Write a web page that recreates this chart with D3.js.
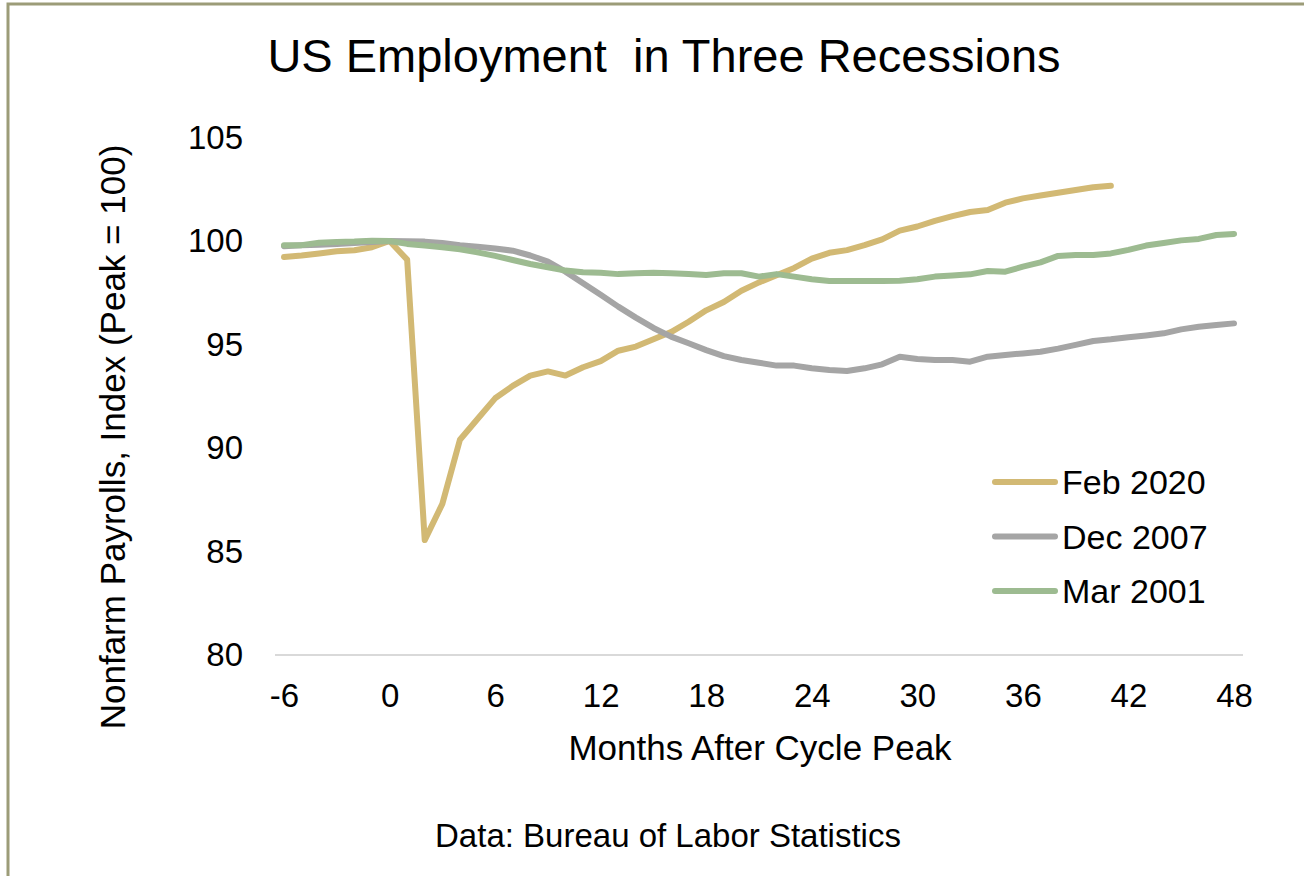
<!DOCTYPE html>
<html>
<head>
<meta charset="utf-8">
<script src="https://cdn.jsdelivr.net/npm/d3@7"></script>
<style>
  html, body { margin: 0; padding: 0; background: #ffffff; }
  svg { display: block; font-family: "Liberation Sans", Arial, sans-serif; }
</style>
</head>
<body>
<svg id="chart" width="1304" height="876"></svg>
<script>
// ---- data ----
const months = d3.range(-6, 49);
const xTicks = [-6, 0, 6, 12, 18, 24, 30, 36, 42, 48];
const yTicks = [80, 85, 90, 95, 100, 105];

const feb2020 = [99.23, 99.3, 99.4, 99.5, 99.55, 99.7, 100.0, 99.1, 85.55, 87.3, 90.4, 91.4,
  92.4, 93.0, 93.5, 93.7, 93.5, 93.9, 94.2, 94.7, 94.9, 95.25, 95.6, 96.1, 96.65, 97.05,
  97.6, 98.0, 98.35, 98.7, 99.15, 99.43, 99.56, 99.8, 100.08, 100.5, 100.7, 100.97, 101.2,
  101.4, 101.5, 101.85, 102.06, 102.2, 102.33, 102.46, 102.6, 102.67];
const dec2007 = [99.75, 99.8, 99.82, 99.86, 99.9, 99.95, 100.0, 99.99, 99.97, 99.9, 99.8, 99.72,
  99.64, 99.53, 99.3, 99.0, 98.52, 97.96, 97.4, 96.83, 96.3, 95.8, 95.38, 95.06, 94.73,
  94.44, 94.25, 94.12, 93.98, 93.98, 93.85, 93.77, 93.72, 93.85, 94.04, 94.41, 94.3, 94.25,
  94.25, 94.17, 94.41, 94.49, 94.57, 94.65, 94.8, 94.98, 95.17, 95.25, 95.35, 95.44, 95.54,
  95.73, 95.86, 95.94, 96.02];
const mar2001 = [99.8, 99.8, 99.92, 99.95, 99.97, 100.01, 100.0, 99.86, 99.78, 99.7, 99.6, 99.45,
  99.28, 99.08, 98.89, 98.73, 98.57, 98.49, 98.47, 98.4, 98.44, 98.47, 98.44, 98.4, 98.36,
  98.44, 98.44, 98.28, 98.4, 98.28, 98.15, 98.07, 98.07, 98.07, 98.07, 98.08, 98.15, 98.28,
  98.33, 98.39, 98.55, 98.52, 98.76, 98.97, 99.28, 99.32, 99.32, 99.4, 99.57, 99.78, 99.9,
  100.03, 100.1, 100.29, 100.34];

const seriesNames = ["Feb 2020", "Dec 2007", "Mar 2001"];
const seriesValues = [feb2020, dec2007, mar2001];
const seriesColors = ["#d2b974", "#a5a5a5", "#9dbb91"];

// ---- layout ----
const svg = d3.select("#chart");
const W = 1304, H = 876;

// frame (olive border, top & left visible)
svg.append("rect").attr("x", 8).attr("y", 4).attr("width", W + 10).attr("height", H + 10)
  .attr("fill", "#ffffff").attr("stroke", "#9c9c78").attr("stroke-width", 3);

const x = d3.scaleLinear().domain([-6, 48]).range([284, 1234]);
const y = d3.scaleLinear().domain([80, 105]).range([655, 137.5]);

// baseline
svg.append("line").attr("x1", 275).attr("x2", 1243)
  .attr("y1", y(80)).attr("y2", y(80))
  .attr("stroke", "#d9d9d9").attr("stroke-width", 2);

// y axis
const yAxis = d3.axisLeft(y).tickValues(yTicks).tickSize(0).tickPadding(0);
const gy = svg.append("g").attr("transform", "translate(243,0)").call(yAxis);
gy.select(".domain").remove();
gy.selectAll("text").attr("font-size", 33).attr("fill", "#000").attr("font-family", "Liberation Sans, Arial, sans-serif");

// x axis
const xAxis = d3.axisBottom(x).tickValues(xTicks).tickSize(0).tickPadding(0).tickFormat(d => String(d));
const gx = svg.append("g").attr("transform", "translate(0,684)").call(xAxis);
gx.select(".domain").remove();
gx.selectAll("text").attr("font-size", 33).attr("fill", "#000").attr("dy", "0.71em").attr("font-family", "Liberation Sans, Arial, sans-serif");

// lines
const line = d3.line().x((d, i) => x(months[i])).y(d => y(d));
seriesValues.forEach((vals, k) => {
  svg.append("path").datum(vals)
    .attr("d", line)
    .attr("fill", "none")
    .attr("stroke", seriesColors[k])
    .attr("stroke-width", 6)
    .attr("stroke-linejoin", "round")
    .attr("stroke-linecap", "round");
});

// title
svg.append("text").attr("x", 664).attr("y", 72).attr("text-anchor", "middle")
  .attr("font-size", 47).attr("fill", "#000").text("US Employment  in Three Recessions")
  .style("white-space", "pre");

// axis titles
svg.append("text").attr("x", 760).attr("y", 760).attr("text-anchor", "middle")
  .attr("font-size", 35).attr("fill", "#000").text("Months After Cycle Peak");
svg.append("text").attr("transform", "translate(125,437) rotate(-90)").attr("text-anchor", "middle")
  .attr("font-size", 35).attr("fill", "#000").text("Nonfarm Payrolls, Index (Peak = 100)");

// source
svg.append("text").attr("x", 668).attr("y", 847).attr("text-anchor", "middle")
  .attr("font-size", 33).attr("fill", "#000").text("Data: Bureau of Labor Statistics");

// legend
const lg = svg.append("g");
seriesNames.forEach((name, k) => {
  const yy = 482 + k * 54.5;
  lg.append("line").attr("x1", 995).attr("x2", 1055).attr("y1", yy).attr("y2", yy)
    .attr("stroke", seriesColors[k]).attr("stroke-width", 6).attr("stroke-linecap", "round");
  lg.append("text").attr("x", 1062).attr("y", yy + 12).attr("font-size", 34).attr("fill", "#000").text(name);
});
</script>
</body>
</html>
